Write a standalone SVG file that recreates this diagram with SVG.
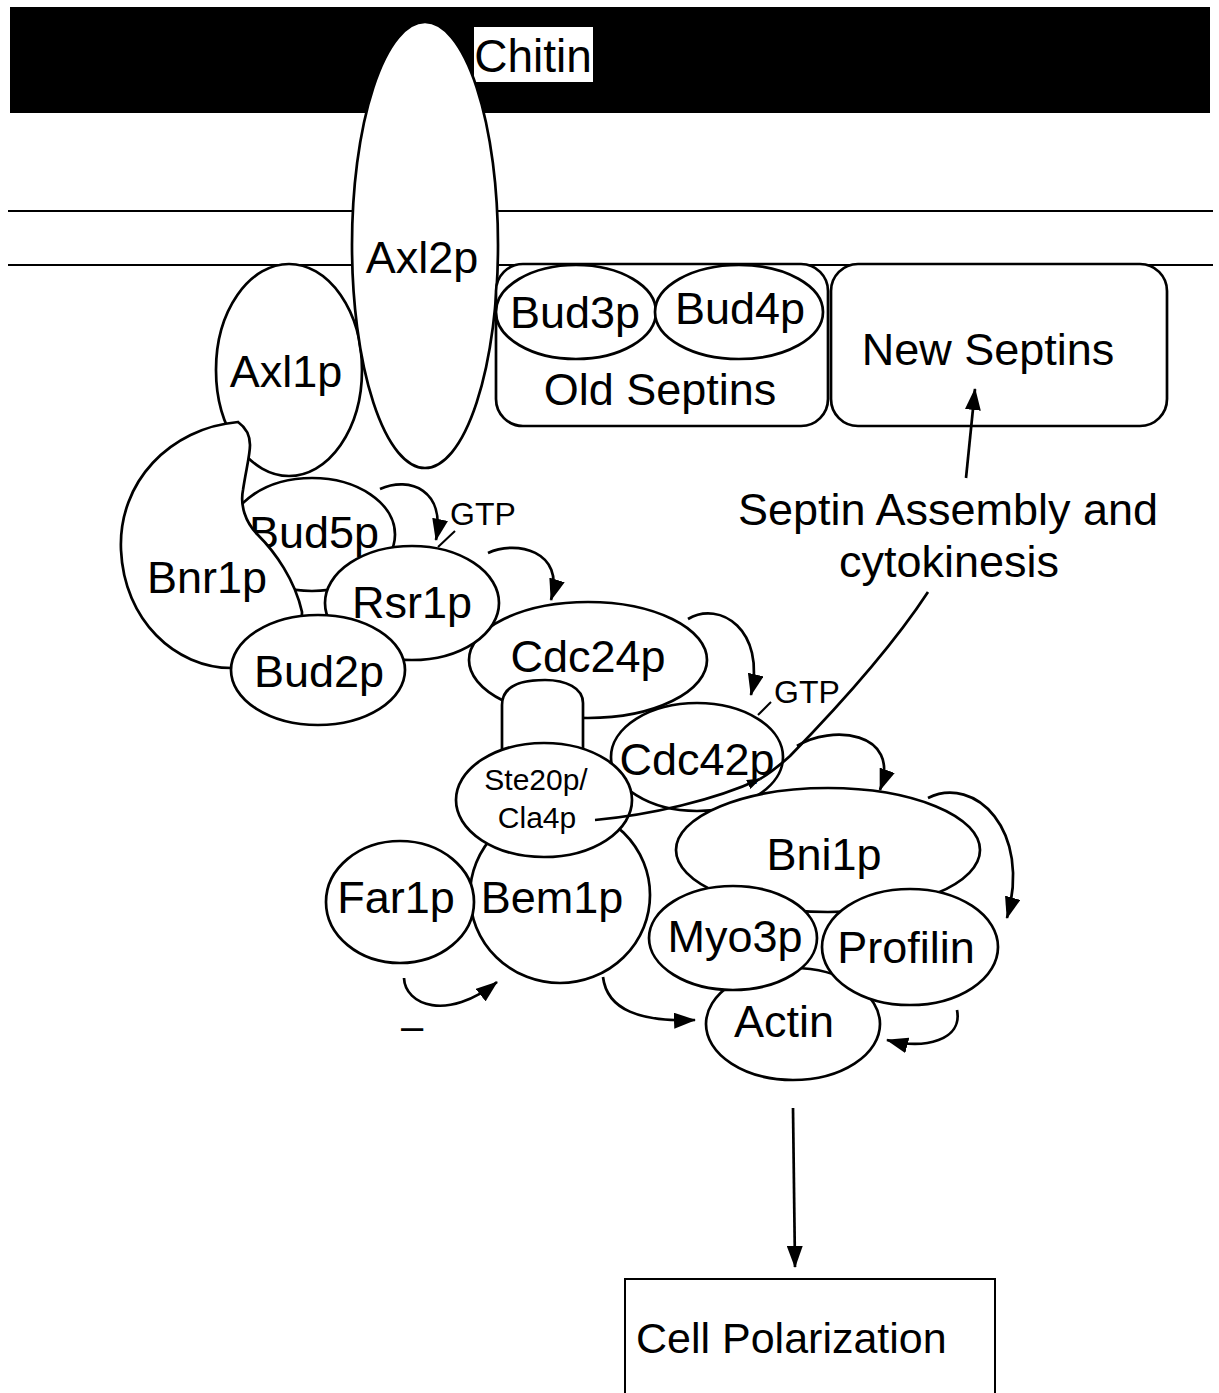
<svg xmlns="http://www.w3.org/2000/svg" width="1219" height="1393" viewBox="0 0 1219 1393">
  <style>
    .shape { fill: #fff; stroke: #000; stroke-width: 2.7; }
    .lbl { font-family: "Liberation Sans", Arial, sans-serif; font-size: 45px; fill: #000; text-anchor: middle; }
    .wire { fill: none; stroke: #000; stroke-width: 2.7; }
    .mem { stroke: #000; stroke-width: 2; }
  </style>
  <defs>
    <marker id="head" viewBox="0 0 22 16" refX="21" refY="8" markerWidth="22" markerHeight="16" markerUnits="userSpaceOnUse" orient="auto">
      <path d="M0,0 L22,8 L0,16 Z" fill="#000"/>
    </marker>
    <marker id="headSmall" viewBox="0 0 14 10" refX="13" refY="5" markerWidth="14" markerHeight="10" markerUnits="userSpaceOnUse" orient="auto">
      <path d="M0,0 L14,5 L0,10 Z" fill="#000"/>
    </marker>
  </defs>

  <rect width="1219" height="1393" fill="#fff"/>

  <!-- cell wall (chitin) and plasma membrane -->
  <g id="cell-wall">
    <rect x="10" y="7" width="1200" height="106" fill="#000"/>
    <rect x="474" y="27" width="119" height="55" fill="#fff"/>
    <text class="lbl" x="533" y="72" style="font-size:46px">Chitin</text>
  </g>
  <g id="membrane">
    <line class="mem" x1="8" y1="211" x2="1213" y2="211"/>
    <line class="mem" x1="8" y1="265" x2="1213" y2="265"/>
  </g>

  <g id="Axl1p">
    <ellipse class="shape" cx="289" cy="370" rx="73" ry="106"/>
    <text class="lbl" x="286" y="387">Axl1p</text>
  </g>
  <g id="Axl2p">
    <ellipse class="shape" cx="425" cy="245" rx="73" ry="223"/>
    <text class="lbl" x="422" y="273">Axl2p</text>
  </g>

  <g id="OldSeptins">
    <rect class="shape" x="496" y="264" width="332" height="162" rx="27" ry="27"/>
    <text class="lbl" x="660" y="405">Old Septins</text>
  </g>
  <g id="Bud3p">
    <ellipse class="shape" cx="576" cy="312" rx="80" ry="47"/>
    <text class="lbl" x="575" y="328">Bud3p</text>
  </g>
  <g id="Bud4p">
    <ellipse class="shape" cx="739" cy="312" rx="84" ry="47"/>
    <text class="lbl" x="740" y="324">Bud4p</text>
  </g>
  <g id="NewSeptins">
    <rect class="shape" x="831" y="264" width="336" height="162" rx="27" ry="27"/>
    <text class="lbl" x="988" y="365">New Septins</text>
  </g>

  <g id="Bud5p">
    <ellipse class="shape" cx="312" cy="534.5" rx="83" ry="56.5"/>
    <text class="lbl" x="314" y="548">Bud5p</text>
  </g>
  <g id="Bnr1p">
    <path class="shape" d="M238,422 C170,428 118,482 121,550 C124,620 175,668 232,668 L300,668 L302,612 C295,580 275,552 258,535 C245,522 240,505 243,490 C246,470 250,455 250,445 C250,435 245,427 238,422 Z"/>
    <text class="lbl" x="207" y="593">Bnr1p</text>
  </g>

  <g id="Cdc24p">
    <ellipse class="shape" cx="588" cy="660" rx="119" ry="58"/>
    <text class="lbl" x="588" y="672">Cdc24p</text>
  </g>
  <g id="Rsr1p">
    <ellipse class="shape" cx="412" cy="603" rx="87" ry="57"/>
    <text class="lbl" x="412" y="618">Rsr1p</text>
  </g>
  <g id="Bud2p">
    <ellipse class="shape" cx="318" cy="670" rx="87" ry="55"/>
    <text class="lbl" x="319" y="687">Bud2p</text>
  </g>

  <!-- linker between Cdc24p and Ste20p/Cla4p -->
  <g id="linker">
    <path class="shape" d="M502,752 L502,705 C502,688 518,680 545,680 C566,680 583,688 583,703 L583,752 Z"/>
  </g>

  <g id="Bem1p">
    <ellipse class="shape" cx="560" cy="895" rx="90" ry="88"/>
    <text class="lbl" x="552" y="913">Bem1p</text>
  </g>
  <g id="Far1p">
    <ellipse class="shape" cx="400" cy="902" rx="74" ry="61"/>
    <text class="lbl" x="396" y="913">Far1p</text>
  </g>

  <g id="Cdc42p">
    <ellipse class="shape" cx="697" cy="757" rx="86" ry="54"/>
    <text class="lbl" x="697" y="775">Cdc42p</text>
  </g>
  <g id="Ste20p-Cla4p">
    <ellipse class="shape" cx="544" cy="800" rx="88" ry="57"/>
    <text class="lbl" x="536" y="790" style="font-size:30px">Ste20p/</text>
    <text class="lbl" x="537" y="828" style="font-size:30px">Cla4p</text>
  </g>

  <g id="Bni1p">
    <ellipse class="shape" cx="828" cy="850" rx="152" ry="62"/>
    <text class="lbl" x="824" y="870">Bni1p</text>
  </g>
  <g id="Actin">
    <ellipse class="shape" cx="793" cy="1024" rx="87" ry="56"/>
    <text class="lbl" x="784" y="1037">Actin</text>
  </g>
  <g id="Myo3p">
    <ellipse class="shape" cx="733" cy="938" rx="84" ry="52"/>
    <text class="lbl" x="735" y="952">Myo3p</text>
  </g>
  <g id="Profilin">
    <ellipse class="shape" cx="910" cy="947" rx="88" ry="58"/>
    <text class="lbl" x="906" y="963">Profilin</text>
  </g>

  <g id="CellPolarization">
    <rect x="625" y="1279" width="370" height="130" fill="#fff" stroke="#000" stroke-width="2"/>
    <text class="lbl" x="636" y="1353" style="font-size:43px;text-anchor:start">Cell Polarization</text>
  </g>

  <g id="SeptinAssembly">
    <text class="lbl" x="948" y="525">Septin Assembly and</text>
    <text class="lbl" x="949" y="577">cytokinesis</text>
  </g>

  <!-- connectors -->
  <g id="connectors">
    <path class="wire" marker-end="url(#head)" d="M380,489 C410,476 446,490 436,540"/>
    <path class="wire" marker-end="url(#head)" d="M488,553 C515,540 566,550 551,600"/>
    <path class="wire" marker-end="url(#head)" d="M688,619 C720,600 766,630 751,695"/>
    <path class="wire" marker-end="url(#head)" d="M797,746 C830,725 902,730 880,790"/>
    <path class="wire" marker-end="url(#head)" d="M928,798 C975,775 1032,830 1007,918"/>
    <path class="wire" marker-end="url(#head)" d="M957,1010 C963,1040 925,1050 887,1040"/>
    <path class="wire" marker-end="url(#head)" d="M404,978 C405,1005 447,1022 497,982"/>
    <path class="wire" marker-end="url(#head)" d="M603,977 C607,1010 640,1022 695,1020"/>
    <path class="wire" stroke-width="2" marker-end="url(#head)" d="M793,1108 L795,1267"/>
    <path class="wire" marker-end="url(#head)" d="M966,478 L975,389"/>
    <!-- Ste20p/Cla4p to Cdc42p and on to septin assembly -->
    <path class="wire" marker-end="url(#headSmall)" d="M595,820 C650,815 715,800 760,779"/>
    <path class="wire" d="M760,779 C770,773 780,765 790,756 C830,715 890,650 928,592"/>
  </g>

  <g id="GTP-labels">
    <text class="lbl" x="483" y="525" style="font-size:32px">GTP</text>
    <line class="mem" x1="438" y1="547" x2="455" y2="531"/>
    <text class="lbl" x="807" y="703" style="font-size:32px">GTP</text>
    <line class="mem" x1="758" y1="715" x2="771" y2="702"/>
  </g>

  <text class="lbl" x="412" y="1040" style="font-size:40px">–</text>
</svg>
